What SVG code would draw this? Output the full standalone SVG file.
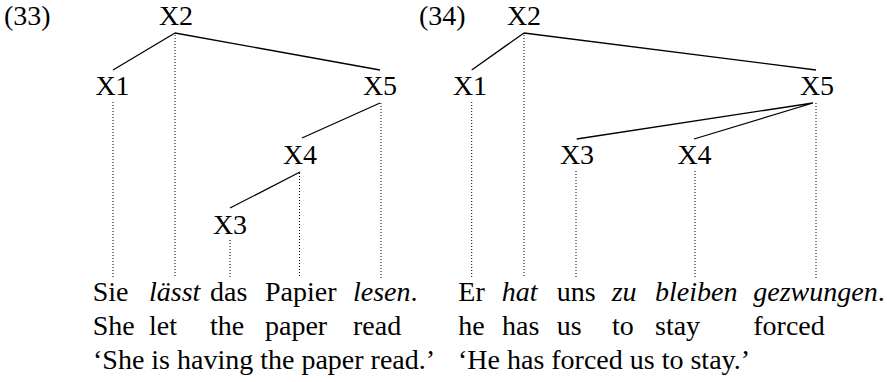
<svg xmlns="http://www.w3.org/2000/svg" width="887" height="382" viewBox="0 0 887 382" font-family="Liberation Serif, serif" font-size="28">
<style>
text{font-family:'Liberation Serif','Times New Roman',serif;font-size:28px;fill:#000}
.n{text-anchor:middle}
.i{font-style:italic}
.e{stroke:#000;stroke-width:1.3;fill:none}
.d{stroke:#000;stroke-width:1;stroke-dasharray:1 2;fill:none}
</style>
<rect width="887" height="382" fill="#fff"/>
<text x="4" y="25">(33)</text>
<text x="419" y="25">(34)</text>
<g id="t33-X2"><text class="n" x="176" y="25">X2</text></g>
<g id="t33-X1"><text class="n" x="112.5" y="95">X1</text></g>
<g id="t33-X5"><text class="n" x="380" y="95">X5</text></g>
<g id="t33-X4"><text class="n" x="300" y="164">X4</text></g>
<g id="t33-X3"><text class="n" x="230" y="234">X3</text></g>
<g id="t34-X2"><text class="n" x="524" y="25">X2</text></g>
<g id="t34-X1"><text class="n" x="470" y="95">X1</text></g>
<g id="t34-X5"><text class="n" x="817" y="95">X5</text></g>
<g id="t34-X3"><text class="n" x="577" y="164">X3</text></g>
<g id="t34-X4"><text class="n" x="694.5" y="164">X4</text></g>
<g id="connectors">
<path class="e" d="M175 33L113 70M175 33L380 70M380 103L302 138M300 172L230 208"/>
<path class="e" d="M524 33L471.7 70M524 33L816 70M813 103L576.7 139M813 103L694 139"/>
<path class="d" d="M113 102V278M175 35V278M381 103V278M299.5 173V278M230 240V278"/>
<path class="d" d="M471.7 102V278M524 35V278M576 171V278M695 171V278M816 103V278"/>
</g>
<g id="gloss33">
<text x="92.7" y="301">Sie</text>
<text class="i" x="149" y="301">lässt</text>
<text x="210" y="301">das</text>
<text x="265" y="301">Papier</text>
<text x="353" y="301"><tspan class="i">lesen</tspan>.</text>
<text x="92.7" y="335">She</text>
<text x="149" y="335">let</text>
<text x="210" y="335">the</text>
<text x="265" y="335">paper</text>
<text x="353" y="335">read</text>
<text x="93" y="369">‘She is having the paper read.’</text>
</g>
<g id="gloss34">
<text x="458.3" y="301">Er</text>
<text class="i" x="501.7" y="301">hat</text>
<text x="556.7" y="301">uns</text>
<text class="i" x="611.7" y="301">zu</text>
<text class="i" x="655" y="301">bleiben</text>
<text x="753.3" y="301"><tspan class="i">gezwungen</tspan>.</text>
<text x="458.3" y="335">he</text>
<text x="502" y="335">has</text>
<text x="556.7" y="335">us</text>
<text x="612" y="335">to</text>
<text x="655" y="335">stay</text>
<text x="753.3" y="335">forced</text>
<text x="458" y="369">‘He has forced us to stay.’</text>
</g>
</svg>
